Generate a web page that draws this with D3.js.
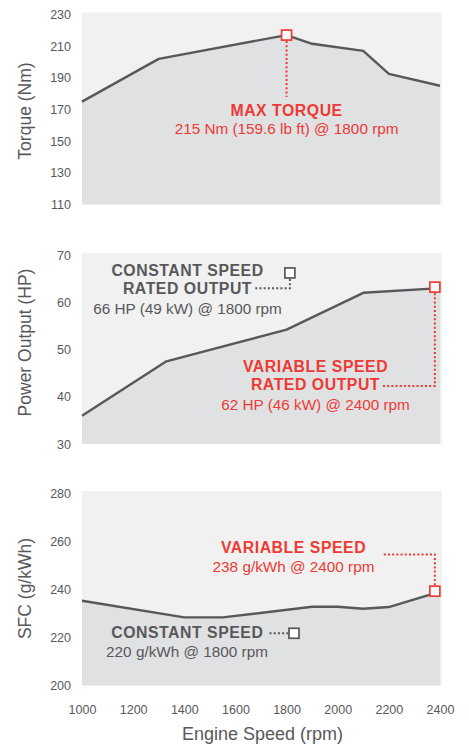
<!DOCTYPE html>
<html><head><meta charset="utf-8">
<script src="https://cdn.jsdelivr.net/npm/d3@7/dist/d3.min.js"></script>
<style>
body{margin:0;background:#fff;}
svg{display:block;font-family:"Liberation Sans",Arial,Helvetica,sans-serif;}
</style></head>
<body>
<svg id="chart" width="469" height="747"></svg>
<script>
// ---- DATA ----
const rpmTicks = [1000,1200,1400,1600,1800,2000,2200,2400];
const torqueRpm = [1000,1300,1800,1900,2100,2200,2400];
const torqueVal = [175,202,217,211.5,207,192.5,185];
const torqueTicks = [110,130,150,170,190,210,230];
const powerRpm = [1000,1330,1800,2100,2400];
const powerVal = [36,47.5,54.2,62,63];
const powerTicks = [30,40,50,60,70];
const sfcRpm = [1000,1400,1550,1900,2000,2100,2200,2400];
const sfcVal = [235.2,228.3,228.3,232.7,232.7,231.9,232.6,239];
const sfcTicks = [200,220,240,260,280];
const torqueMax = [1800,217];
const powerConst = [1813,66.2];
const powerVar = [2380,63.2];
const sfcConst = [1829,221.7];
const sfcVar = [2380,239.2];

const RED = "#ed3a33", GRAY = "#58585a";
const svg = d3.select("#chart");
const x = d3.scaleLinear().domain([1000,2400]).range([82,440]);
const plotL = 82, plotR = 442;

function panel(rpm, vals, ticks, range, title, titleY){
  const y = d3.scaleLinear().domain([ticks[0], ticks[ticks.length-1]]).range(range);
  const g = svg.append("g");
  g.append("rect").attr("x",plotL).attr("width",plotR-plotL)
    .attr("y",range[1]-2).attr("height",range[0]-range[1]+2).attr("fill","#f1f1f1");
  const data = rpm.map((r,i)=>[r,vals[i]]);
  g.append("path").datum(data).attr("fill","#e0e1e3")
    .attr("d", d3.area().x(d=>x(d[0])).y0(range[0]).y1(d=>y(d[1])));
  g.append("path").datum(data).attr("fill","none").attr("stroke",GRAY)
    .attr("stroke-width",2.4).attr("stroke-linejoin","round")
    .attr("d", d3.line().x(d=>x(d[0])).y(d=>y(d[1])));
  const ax = g.append("g").attr("transform",`translate(${plotL},0)`)
    .call(d3.axisLeft(y).tickValues(ticks).tickSize(0).tickPadding(11).tickFormat(d3.format("d")));
  ax.select(".domain").remove();
  ax.selectAll("text").attr("fill",GRAY).style("font-size","12.5px").style("font-family","'Liberation Sans',Arial,sans-serif");
  svg.append("text").attr("transform",`translate(31,${titleY}) rotate(-90)`)
    .attr("text-anchor","middle").attr("fill",GRAY).style("font-size","17.5px").text(title);
  return y;
}

const yT = panel(torqueRpm, torqueVal, torqueTicks, [204.5,14.5], "Torque (Nm)", 111);
const yP = panel(powerRpm, powerVal, powerTicks, [444,255], "Power Output (HP)", 342.5);
const yS = panel(sfcRpm, sfcVal, sfcTicks, [685.5,493], "SFC (g/kWh)", 588.5);

// x axis
const xa = svg.append("g").attr("transform","translate(0,685.5)")
  .call(d3.axisBottom(x).tickValues(rpmTicks).tickSize(0).tickPadding(20).tickFormat(d3.format("d")));
xa.select(".domain").remove();
xa.selectAll("text").attr("fill",GRAY).style("font-size","12.5px").style("font-family","'Liberation Sans',Arial,sans-serif");
svg.append("text").attr("x",262.5).attr("y",739.5).attr("text-anchor","middle")
  .attr("fill",GRAY).style("font-size","18px").text("Engine Speed (rpm)");

// helpers
function dotted(points,color){
  svg.append("path").attr("d",d3.line()(points)).attr("fill","none")
    .attr("stroke",color).attr("stroke-width",2).attr("stroke-dasharray","2,2.2");
}
function marker(cx,cy,color){
  svg.append("rect").attr("x",cx-5).attr("y",cy-5).attr("width",10).attr("height",10)
    .attr("fill","#fff").attr("stroke",color).attr("stroke-width",1.7);
}
function label(cx,y,txt,color,bold){
  svg.append("text").attr("x",cx).attr("y",y).attr("text-anchor","middle").attr("fill",color)
    .style("font-size",bold?"15.8px":"15.3px").style("font-weight",bold?"bold":"normal")
    .style("letter-spacing",bold?"0.55px":"0px").text(txt);
}

// Torque annotation
{
  const mx = x(torqueMax[0]), my = yT(torqueMax[1]);
  dotted([[mx,my+6],[mx,97]],RED);
  marker(mx,my,RED);
  label(mx,115.7,"MAX TORQUE",RED,true);
  label(mx,134.3,"215 Nm (159.6 lb ft) @ 1800 rpm",RED,false);
}
// Power constant
{
  const mx = x(powerConst[0]), my = yP(powerConst[1]);
  dotted([[mx,my+6],[mx,288.3],[255,288.3]],GRAY);
  marker(mx,my,GRAY);
  label(187.5,276,"CONSTANT SPEED",GRAY,true);
  label(187.5,294.3,"RATED OUTPUT",GRAY,true);
  label(187.5,314.3,"66 HP (49 kW) @ 1800 rpm",GRAY,false);
}
// Power variable
{
  const mx = x(powerVar[0]), my = yP(powerVar[1]);
  dotted([[mx,my+6],[mx,386],[382,386]],RED);
  marker(mx,my,RED);
  label(315.5,371.5,"VARIABLE SPEED",RED,true);
  label(315.5,390,"RATED OUTPUT",RED,true);
  label(315.5,409.5,"62 HP (46 kW) @ 2400 rpm",RED,false);
}
// SFC variable
{
  const mx = x(sfcVar[0]), my = yS(sfcVar[1]);
  dotted([[mx,my-6],[mx,554.5],[382,554.5]],RED);
  marker(mx,my,RED);
  label(293.5,553,"VARIABLE SPEED",RED,true);
  label(293.5,572,"238 g/kWh @ 2400 rpm",RED,false);
}
// SFC constant
{
  const mx = x(sfcConst[0]), my = yS(sfcConst[1]);
  dotted([[269.5,my],[mx-6,my]],GRAY);
  marker(mx,my,GRAY);
  label(187.3,638,"CONSTANT SPEED",GRAY,true);
  label(187,656.5,"220 g/kWh @ 1800 rpm",GRAY,false);
}
</script>
</body></html>
